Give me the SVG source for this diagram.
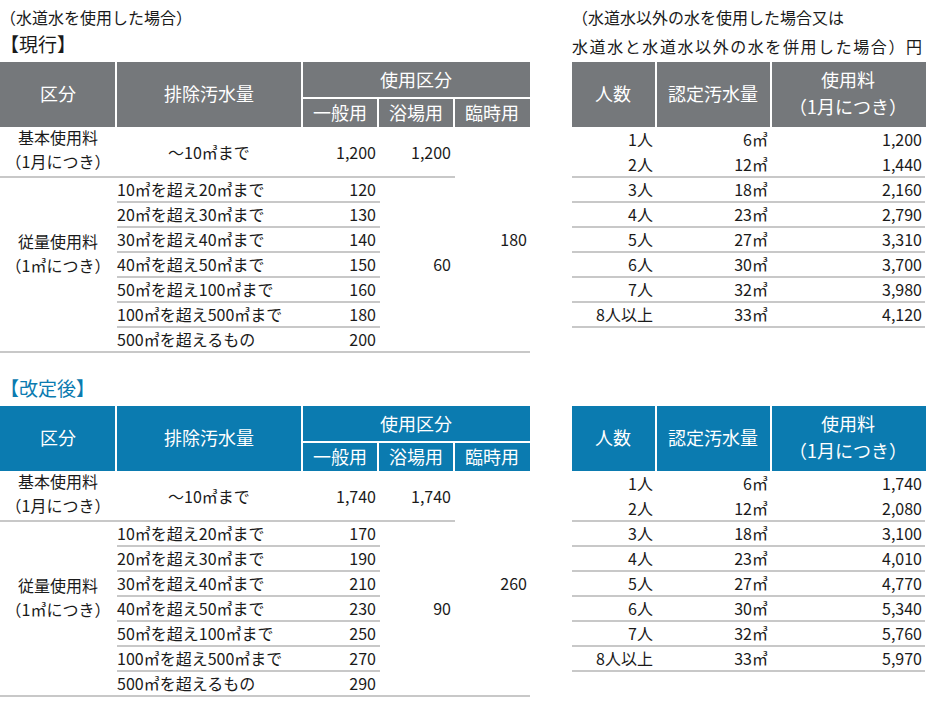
<svg xmlns="http://www.w3.org/2000/svg" width="926" height="704" viewBox="0 0 926 704">
<style>
text{font-family:"Noto Sans CJK JP","Noto Sans",sans-serif;font-size:16px;fill:#1a1a1a}
.h{fill:#fff;font-size:18px;text-anchor:middle}
.r{text-anchor:end}
.c{text-anchor:middle}
.ln{stroke:#c8c8c8;stroke-width:2}
.g{fill:#75787b}
.b{fill:#0b7bb0}
.w{stroke:#fff;stroke-width:2}
</style>
<rect width="926" height="704" fill="#fff"/>
<text x="0" y="24">（水道水を使用した場合）</text>
<text x="0" y="52" style="font-size:19px">【現行】</text>
<text x="572" y="24">（水道水以外の水を使用した場合又は</text>
<text x="922" y="53" class="r" textLength="350">水道水と水道水以外の水を併用した場合）円</text>
<text x="0" y="396" style="font-size:19px;fill:#0b7bb0">【改定後】</text>
<defs>
<g id="lt">
 <g id="lhead">
 <rect x="0" y="0" width="530" height="65"/>
 <line class="w" x1="116" y1="0" x2="116" y2="65"/>
 <line class="w" x1="302" y1="0" x2="302" y2="65"/>
 <line class="w" x1="302" y1="36" x2="530" y2="36"/>
 <line class="w" x1="378" y1="36" x2="378" y2="65"/>
 <line class="w" x1="454" y1="36" x2="454" y2="65"/>
 <text class="h" x="58" y="39">区分</text>
 <text class="h" x="209" y="39">排除汚水量</text>
 <text class="h" x="416" y="25">使用区分</text>
 <text class="h" x="340" y="58">一般用</text>
 <text class="h" x="416" y="58">浴場用</text>
 <text class="h" x="492" y="58">臨時用</text>
 </g>
 <text class="c" x="58" y="82">基本使用料</text>
 <text class="c" x="58" y="106">（1月につき）</text>
 <text class="c" x="209" y="97">～10㎥まで</text>
 <line class="ln" x1="0" y1="115" x2="455" y2="115"/>
 <text class="c" x="58" y="186">従量使用料</text>
 <text class="c" x="58" y="210">（1㎥につき）</text>
 <text x="117" y="134">10㎥を超え20㎥まで</text>
 <text x="117" y="159">20㎥を超え30㎥まで</text>
 <text x="117" y="184">30㎥を超え40㎥まで</text>
 <text x="117" y="209">40㎥を超え50㎥まで</text>
 <text x="117" y="234">50㎥を超え100㎥まで</text>
 <text x="117" y="259">100㎥を超え500㎥まで</text>
 <text x="117" y="284">500㎥を超えるもの</text>
 <g class="ln">
 <line x1="117" y1="140" x2="380" y2="140"/>
 <line x1="117" y1="165" x2="380" y2="165"/>
 <line x1="117" y1="190" x2="380" y2="190"/>
 <line x1="117" y1="215" x2="380" y2="215"/>
 <line x1="117" y1="240" x2="380" y2="240"/>
 <line x1="117" y1="265" x2="380" y2="265"/>
 <line x1="0" y1="290" x2="530" y2="290"/>
 </g>
</g>
<g id="rt">
 <rect x="572" y="0" width="354" height="65"/>
 <line class="w" x1="656" y1="0" x2="656" y2="65"/>
 <line class="w" x1="771" y1="0" x2="771" y2="65"/>
 <text class="h" x="613" y="39">人数</text>
 <text class="h" x="713" y="39">認定汚水量</text>
 <text class="h" x="848" y="25">使用料</text>
 <text class="h" x="848" y="52">（1月につき）</text>
 <g class="r">
 <text x="653" y="84">1人</text><text x="768" y="84">6㎥</text>
 <text x="653" y="109">2人</text><text x="768" y="109">12㎥</text>
 <text x="653" y="134">3人</text><text x="768" y="134">18㎥</text>
 <text x="653" y="159">4人</text><text x="768" y="159">23㎥</text>
 <text x="653" y="184">5人</text><text x="768" y="184">27㎥</text>
 <text x="653" y="209">6人</text><text x="768" y="209">30㎥</text>
 <text x="653" y="234">7人</text><text x="768" y="234">32㎥</text>
 <text x="653" y="259">8人以上</text><text x="768" y="259">33㎥</text>
 </g>
 <g class="ln">
 <line x1="572" y1="115" x2="925" y2="115"/>
 <line x1="572" y1="140" x2="925" y2="140"/>
 <line x1="572" y1="165" x2="925" y2="165"/>
 <line x1="572" y1="190" x2="925" y2="190"/>
 <line x1="572" y1="215" x2="925" y2="215"/>
 <line x1="572" y1="240" x2="925" y2="240"/>
 <line x1="572" y1="265" x2="925" y2="265"/>
 </g>
</g>
</defs>
<g id="current" transform="translate(0,62)">
 <use href="#lt" class="g"/>
 <use href="#rt" class="g"/>
 <g class="r">
 <text x="376" y="97">1,200</text><text x="451" y="97">1,200</text>
 <text x="376" y="134">120</text><text x="376" y="159">130</text><text x="376" y="184">140</text>
 <text x="376" y="209">150</text><text x="376" y="234">160</text><text x="376" y="259">180</text><text x="376" y="284">200</text>
 <text x="451" y="209">60</text><text x="527" y="184">180</text>
 <text x="922" y="84">1,200</text><text x="922" y="109">1,440</text><text x="922" y="134">2,160</text><text x="922" y="159">2,790</text>
 <text x="922" y="184">3,310</text><text x="922" y="209">3,700</text><text x="922" y="234">3,980</text><text x="922" y="259">4,120</text>
 </g>
</g>
<g id="revised" transform="translate(0,406)">
 <use href="#lt" class="b"/>
 <use href="#rt" class="b"/>
 <g class="r">
 <text x="376" y="97">1,740</text><text x="451" y="97">1,740</text>
 <text x="376" y="134">170</text><text x="376" y="159">190</text><text x="376" y="184">210</text>
 <text x="376" y="209">230</text><text x="376" y="234">250</text><text x="376" y="259">270</text><text x="376" y="284">290</text>
 <text x="451" y="209">90</text><text x="527" y="184">260</text>
 <text x="922" y="84">1,740</text><text x="922" y="109">2,080</text><text x="922" y="134">3,100</text><text x="922" y="159">4,010</text>
 <text x="922" y="184">4,770</text><text x="922" y="209">5,340</text><text x="922" y="234">5,760</text><text x="922" y="259">5,970</text>
 </g>
</g>
</svg>
